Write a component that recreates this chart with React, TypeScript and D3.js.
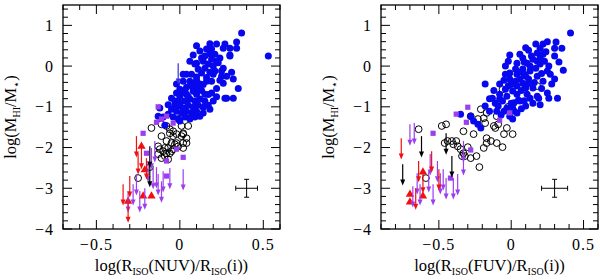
import React from 'react';
import * as d3 from 'd3';

// ---- data, left panel: log(R_iso(NUV)/R_iso(i)) vs log(M_HI/M*) ----
const nuvBlue: [number, number][] = [
  [0.37, 0.81], [0.34, 0.59], [0.34, 0.44], [0.53, 0.25], [0.27, 0.54], [0.22, 0.54], [0.3, 0.44], [0.26, 0.44],
  [0.08, 0.27], [0.12, 0.37], [0.19, 0.42], [0.16, 0.42], [0.21, 0.29], [0.3, 0.27], [0.1, 0.07], [0.14, 0.12],
  [0.19, 0.17], [0.22, 0.12], [0.26, -0.05], [0.21, -0.12], [0.32, -0.32], [0.26, -0.42], [0.07, -0.2], [0.04, -0.2],
  [0.02, -0.37], [-0.02, -0.44], [0.08, -0.54], [0.12, -0.44], [0.16, -0.37], [0.19, -0.37], [0.28, -0.79], [0.04, -0.69],
  [0.01, -0.66], [0.1, -0.69], [0.15, -0.69], [0.19, -0.66], [-0.05, -0.79], [-0.03, -0.86], [0, -0.91], [0.03, -0.86],
  [0.06, -0.81], [0.09, -0.86], [0.12, -0.81], [0.15, -0.86], [-0.01, -0.98], [0.02, -1.03], [0.05, -0.96], [0.08, -1.01],
  [0.11, -0.96], [0.14, -1.01], [0.17, -0.96], [-0.05, -1.06], [-0.02, -1.11], [0.01, -1.15], [0.04, -1.11], [0.07, -1.15],
  [0.1, -1.11], [-0.07, -1.18], [-0.04, -1.25], [-0.01, -1.3], [0.03, -1.25], [0.06, -1.3], [0.12, -1.23], [0.18, -1.06],
  [0.2, -0.86], [0.04, -0.52], [0.06, -0.37], [0.1, -0.27], [0.13, -0.17], [0.15, -0.05], [0.17, 0.05], [0.09, -0.42],
  [0, -0.57], [-0.02, -0.66], [0.32, -0.79], [0.27, -0.79], [-0.12, -1.03], [-0.13, -1.23], [-0.1, -1.25], [-0.09, -1.45],
  [0, -1.35], [0.3, 0.25], [0.09, 0.05], [0.25, -0.12], [0.31, -0.15], [0.24, 0.2], [0.18, 0.3], [0.13, -0.6],
  [0.22, -0.55], [0.25, -0.25], [0.06, 0.12], [0.11, -0.08], [0.2, -0.2],
  [0.05, -0.75], [0.08, -0.62], [0.11, -0.55], [0.14, -0.45], [0.16, -0.28], [0.18, -0.15], [0.2, 0.0], [0.23, 0.08],
  [0.13, 0.2], [0.1, -0.35], [0.07, -0.47], [0.03, -0.6], [0.0, -0.75], [-0.03, -0.95], [0.02, -0.2], [0.15, 0.25],
  [0.24, -0.35], [0.17, -0.7], [0.22, -0.75], [0.14, -1.15], [0.09, -1.25], [-0.07, -0.95], [0.28, -0.25], [0.35, -0.55],
  [0.18, 0.55], [0.1, 0.5],
];
const nuvOpen: [number, number][] = [
  [-0.17, -1.52], [-0.11, -1.43], [-0.08, -1.47], [0.01, -1.47], [0.05, -1.47], [0.02, -1.67], [-0.01, -1.3], [0.06, -1.23],
  [0.04, -1.15], [-0.06, -1.55], [-0.04, -1.72], [-0.08, -1.84], [-0.05, -1.89], [-0.03, -1.92], [-0.07, -2.01], [-0.04, -2.04],
  [-0.1, -2.09], [-0.06, -2.14], [-0.12, -2.04], [-0.13, -2.16], [-0.09, -2.21], [-0.07, -2.29], [-0.11, -2.26], [-0.13, -1.97],
  [-0.09, -2.01], [-0.02, -1.89], [0.02, -2.01], [0.04, -1.89], [-0.18, -2.48], [-0.25, -2.75], [-0.08, -2.14], [-0.05, -2.09],
  [0.04, -1.77], [-0.02, -1.67], [-0.06, -1.65], [0.02, -1.65], [-0.11, -1.72], [0.01, -1.72], [-0.04, -1.6], [-0.01, -1.97],
  [0.02, -1.89],
];
const nuvSquare: [number, number][] = [
  [-0.13, -1.0], [-0.14, -1.38], [-0.22, -1.65], [-0.08, -1.23], [-0.2, -2.14], [-0.08, -2.7], [-0.02, -2.04], [-0.08, -2.33],
  [0.02, -2.24], [-0.11, -1.3], [-0.04, -1.4],
];
const nuvTriangle: [number, number][] = [
  [-0.23, -1.97], [-0.31, -3.32], [-0.22, -3.19], [-0.17, -3.19], [-0.21, -2.55],
];
const nuvLimRed: [number, number][] = [
  [-0.34, -2.9], [-0.31, -3.32], [-0.3, -2.7], [-0.26, -1.72], [-0.23, -2.01], [-0.25, -2.14], [-0.2, -2.26],
];
const nuvLimPurple: [number, number][] = [
  [-0.31, -3.07], [-0.28, -2.9], [-0.26, -2.65], [-0.24, -3.07], [-0.21, -3.0], [-0.19, -2.33], [-0.16, -2.5], [-0.14, -2.48],
  [-0.13, -2.65], [-0.11, -2.83], [-0.1, -2.58], [-0.06, -2.5], [-0.17, -2.01], [-0.15, -1.84], [0.02, -2.53],
];
const nuvLimBlack: [number, number][] = [[-0.18, -1.97], [-0.18, -2.45]];
const nuvLimBlue: [number, number][] = [[-0.01, 0.07]];

// ---- data, right panel: log(R_iso(FUV)/R_iso(i)) vs log(M_HI/M*) ----
const fuvBlue: [number, number][] = [
  [0.41, 0.81], [0.31, 0.59], [0.35, 0.44], [0.3, 0.44], [0.17, 0.54], [0.22, 0.54], [0.2, 0.44], [0.18, 0.32],
  [0.22, 0.29], [-0.01, 0.27], [0.06, 0.29], [0.08, 0.2], [0.12, 0.39], [0.3, 0.25], [0.04, 0.07], [0.11, 0.07],
  [0.18, 0.12], [0.2, 0.05], [0.26, 0], [0.25, -0.12], [-0.01, -0.17], [0.04, -0.2], [0.08, -0.07], [0.13, -0.12],
  [-0.04, -0.2], [-0.01, -0.32], [0.06, -0.32], [0.12, -0.32], [0.18, -0.25], [0.3, -0.32], [0.22, -0.37], [-0.18, -0.44],
  [-0.08, -0.44], [0.04, -0.49], [0.1, -0.54], [0.15, -0.54], [0.28, -0.44], [-0.13, -0.79], [-0.03, -0.74], [0.04, -0.69],
  [0.11, -0.69], [0.19, -0.79], [0.26, -0.79], [-0.08, -0.81], [-0.35, -1.18], [-0.28, -1.23], [-0.26, -1.35], [-0.23, -1.43],
  [-0.21, -1.52], [-0.11, -0.91], [-0.09, -0.98], [-0.06, -0.86], [-0.03, -1.03], [-0.08, -0.69], [-0.05, -1.11], [0.01, -1.03],
  [-0.1, -1.11], [0, -0.91], [0.05, -0.84], [0.13, -0.79], [0.18, -0.74], [0.15, -0.91], [0.25, -0.66], [0.32, -0.79],
  [0.01, -1.3], [0.04, -1.15], [0.03, -0.37], [0.08, -0.42], [-0.04, -0.57], [0.01, -0.61], [0.06, -0.86], [0.1, -0.98],
  [-0.01, -1.23], [-0.15, -1.11], [-0.18, -0.98], [0.13, 0], [0.15, 0.17], [-0.04, 0], [0.03, -0.07], [0.23, 0.12],
  [0.16, -0.4], [0.21, -0.55], [0.09, -0.2], [0.02, -0.9], [0.07, -1.05], [-0.02, -0.48],
  [0.05, -0.15], [0.09, 0.1], [0.14, 0.25], [0.2, 0.2], [0.24, 0.35], [0.17, -0.05], [0.21, -0.18], [0.1, -0.25],
  [0.0, -0.45], [0.07, -0.6], [0.12, -0.42], [-0.05, -0.35], [-0.12, -0.6], [-0.15, -0.8], [0.02, -1.1], [-0.07, -1.2],
  [0.27, -0.2], [0.33, 0.1], [0.25, 0.6], [0.1, 0.45], [-0.02, 0.12], [0.36, -0.1], [0.2, -0.95], [0.09, -0.85],
];
const fuvOpen: [number, number][] = [
  [-0.64, -1.55], [-0.48, -1.47], [-0.45, -1.43], [-0.44, -1.84], [-0.41, -1.84], [-0.38, -1.84], [-0.37, -1.97], [-0.35, -2.04],
  [-0.33, -2.14], [-0.33, -1.6], [-0.26, -1.67], [-0.28, -1.23], [-0.23, -1.3], [-0.19, -1.28], [-0.17, -1.15], [-0.18, -1.4],
  [-0.17, -1.77], [-0.17, -1.89], [-0.11, -1.52], [-0.09, -1.43], [-0.1, -1.89], [-0.22, -2.48], [-0.32, -2.21], [-0.28, -2.26],
  [-0.24, -2.21], [-0.1, -1.23], [-0.06, -1.99], [-0.19, -2.01], [-0.59, -2.75], [-0.21, -1.06], [-0.12, -1.47], [-0.03, -1.52],
  [-0.02, -1.0], [0.01, -1.67], [-0.05, -1.67], [0.1, -0.49], [-0.06, -0.57], [0.18, -0.49], [-0.46, -1.89], [-0.4, -1.92],
  [-0.3, -1.99], [-0.34, -2.21], [-0.14, -1.84],
];
const fuvSquare: [number, number][] = [
  [-0.54, -1.65], [-0.38, -1.18], [-0.3, -1.01], [-0.31, -1.38], [-0.28, -2.06], [-0.42, -2.75], [-0.08, -1.33], [-0.01, -1.15],
];
const fuvTriangle: [number, number][] = [
  [-0.7, -3.15], [-0.7, -3.34], [-0.61, -2.6], [-0.61, -3.19],
];
const fuvLimRed: [number, number][] = [
  [-0.76, -1.77], [-0.64, -2.33], [-0.55, -2.09], [-0.5, -2.53], [-0.61, -2.6], [-0.66, -3.0],
];
const fuvLimPurple: [number, number][] = [
  [-0.7, -1.43], [-0.67, -1.4], [-0.68, -2.95], [-0.65, -2.63], [-0.63, -2.9], [-0.57, -2.58], [-0.56, -2.16], [-0.54, -2.9],
  [-0.49, -2.63], [-0.45, -2.75], [-0.4, -2.75], [-0.37, -2.65], [-0.33, -1.84], [-0.51, -2.33], [-0.33, -2.16], [-0.47, -2.53],
];
const fuvLimBlack: [number, number][] = [[-0.75, -2.41], [-0.62, -1.72], [-0.45, -1.65], [-0.41, -2.21]];

const yDomain: [number, number] = [-4, 1.5];
const yMajor = [-4, -3, -2, -1, 0, 1];
const xMajorNuv = [-0.5, 0, 0.5];
const xMajorFuv = [-0.5, 0, 0.5];

const BLUE = '#0808ee';
const PURPLE = '#9c3ef0';
const RED = '#f01010';
const FONT = '"Liberation Serif", "DejaVu Serif", serif';
const LIMIT_LEN = 0.5;

type P = [number, number];

function Panel(props: {
  left: number; xDomain: [number, number]; xMajor: number[]; band: string;
  blue: P[]; open: P[]; square: P[]; tri: P[];
  limRed: P[]; limPurple: P[]; limBlack: P[]; limBlue: P[];
  err: { x: number; y: number; dx: number; dy: number };
}) {
  const top = 5, bottom = 229, width = 217;
  const x = d3.scaleLinear().domain(props.xDomain).range([props.left, props.left + width]);
  const y = d3.scaleLinear().domain(yDomain).range([bottom, top]);
  const xMinor = d3.range(Math.ceil(props.xDomain[0] * 10), Math.floor(props.xDomain[1] * 10) + 1).map(v => v / 10);
  const yMinor = d3.range(-20, 8).map(v => v / 5);
  const fmt = (v: number) => (v === 0 ? '0' : String(v).replace('-', '\u2212'));
  const x0 = props.left, x1 = props.left + width;

  const arrow = (p: P, color: string, i: number) => {
    const px = x(p[0]), py = y(p[1]), pe = y(p[1] - LIMIT_LEN);
    return (
      <g key={i}>
        <line x1={px} x2={px} y1={py} y2={pe - 3} stroke={color} strokeWidth={1.2} />
        <path d={`M${px - 2.5},${pe - 5}L${px + 2.5},${pe - 5}L${px},${pe + 1}Z`} fill={color} />
      </g>
    );
  };

  const tri = d3.symbol(d3.symbolTriangle, 30)() as string;
  const { err } = props;
  const ex = x(err.x), ey = y(err.y);
  const exl = x(err.x - err.dx), exr = x(err.x + err.dx);
  const eyt = y(err.y + err.dy), eyb = y(err.y - err.dy);

  return (
    <g>
      {props.open.map((p, i) => (
        <circle key={'o' + i} cx={x(p[0])} cy={y(p[1])} r={3.4} fill="none" stroke="#000" strokeWidth={1} />
      ))}
      {props.blue.map((p, i) => (
        <circle key={'b' + i} cx={x(p[0])} cy={y(p[1])} r={3.5} fill={BLUE} />
      ))}
      {props.square.map((p, i) => (
        <rect key={'s' + i} x={x(p[0]) - 2.6} y={y(p[1]) - 2.6} width={5.2} height={5.2} fill={PURPLE} />
      ))}
      {props.tri.map((p, i) => (
        <path key={'t' + i} d={tri} transform={`translate(${x(p[0])},${y(p[1])})`} fill={RED} />
      ))}
      {props.limPurple.map((p, i) => arrow(p, PURPLE, i))}
      {props.limRed.map((p, i) => arrow(p, RED, i))}
      {props.limBlack.map((p, i) => arrow(p, '#000', i))}
      {props.limBlue.map((p, i) => arrow(p, '#3a2ee0', i))}

      {/* error bar */}
      <g stroke="#000" strokeWidth={1}>
        <line x1={exl} x2={exr} y1={ey} y2={ey} />
        <line x1={ex} x2={ex} y1={eyt} y2={eyb} />
        <line x1={exl} x2={exl} y1={ey - 2.5} y2={ey + 2.5} />
        <line x1={exr} x2={exr} y1={ey - 2.5} y2={ey + 2.5} />
        <line x1={ex - 2.5} x2={ex + 2.5} y1={eyt} y2={eyt} />
        <line x1={ex - 2.5} x2={ex + 2.5} y1={eyb} y2={eyb} />
      </g>

      {/* frame and ticks */}
      <rect x={x0} y={top} width={width} height={bottom - top} fill="none" stroke="#000" strokeWidth={1.3} />
      <g stroke="#000" strokeWidth={1}>
        {xMinor.map((v, i) => {
          const big = props.xMajor.some(m => Math.abs(m - v) < 1e-6);
          const L = big ? 9 : 5;
          return (
            <g key={'xt' + i}>
              <line x1={x(v)} x2={x(v)} y1={bottom} y2={bottom - L} />
              <line x1={x(v)} x2={x(v)} y1={top} y2={top + L} />
            </g>
          );
        })}
        {yMinor.map((v, i) => {
          const big = yMajor.some(m => Math.abs(m - v) < 1e-6);
          const L = big ? 9 : 5;
          return (
            <g key={'yt' + i}>
              <line x1={x0} x2={x0 + L} y1={y(v)} y2={y(v)} />
              <line x1={x1} x2={x1 - L} y1={y(v)} y2={y(v)} />
            </g>
          );
        })}
      </g>
      <g fontFamily={FONT} fontSize={16} fill="#000">
        {props.xMajor.map((v, i) => (
          <text key={'xl' + i} x={x(v)} y={bottom + 21} textAnchor="middle" letterSpacing={1}>{fmt(v)}</text>
        ))}
        {yMajor.map((v, i) => (
          <text key={'yl' + i} x={x0 - 9} y={y(v) + 5.5} textAnchor="end" letterSpacing={1}>{fmt(v)}</text>
        ))}
        <text x={(x0 + x1) / 2} y={271} textAnchor="middle" fontSize={16.5}>
          log(R<tspan dy={4} fontSize={10}>ISO</tspan><tspan dy={-4}>({props.band})/R</tspan>
          <tspan dy={4} fontSize={10}>ISO</tspan><tspan dy={-4}>(i))</tspan>
        </text>
        <text transform={`translate(${x0 - 47},${(top + bottom) / 2}) rotate(-90)`} textAnchor="middle" fontSize={16.5}>
          log(M<tspan dy={4} fontSize={10}>HI</tspan><tspan dy={-4}>/M</tspan>
          <tspan dy={4} fontSize={11}>{'\u22C6'}</tspan><tspan dy={-4}>)</tspan>
        </text>
      </g>
    </g>
  );
}

export default function App() {
  return (
    <svg width={600} height={280} style={{ position: 'absolute', left: 0, top: 0, background: '#fff' }}>
      <Panel left={63} xDomain={[-0.7, 0.6]} xMajor={xMajorNuv} band="NUV"
        blue={nuvBlue} open={nuvOpen} square={nuvSquare} tri={nuvTriangle}
        limRed={nuvLimRed} limPurple={nuvLimPurple} limBlack={nuvLimBlack} limBlue={nuvLimBlue}
        err={{ x: 0.4, y: -3, dx: 0.065, dy: 0.22 }} />
      <Panel left={381} xDomain={[-0.9, 0.6]} xMajor={xMajorFuv} band="FUV"
        blue={fuvBlue} open={fuvOpen} square={fuvSquare} tri={fuvTriangle}
        limRed={fuvLimRed} limPurple={fuvLimPurple} limBlack={fuvLimBlack} limBlue={[]}
        err={{ x: 0.3, y: -3, dx: 0.09, dy: 0.22 }} />
    </svg>
  );
}
